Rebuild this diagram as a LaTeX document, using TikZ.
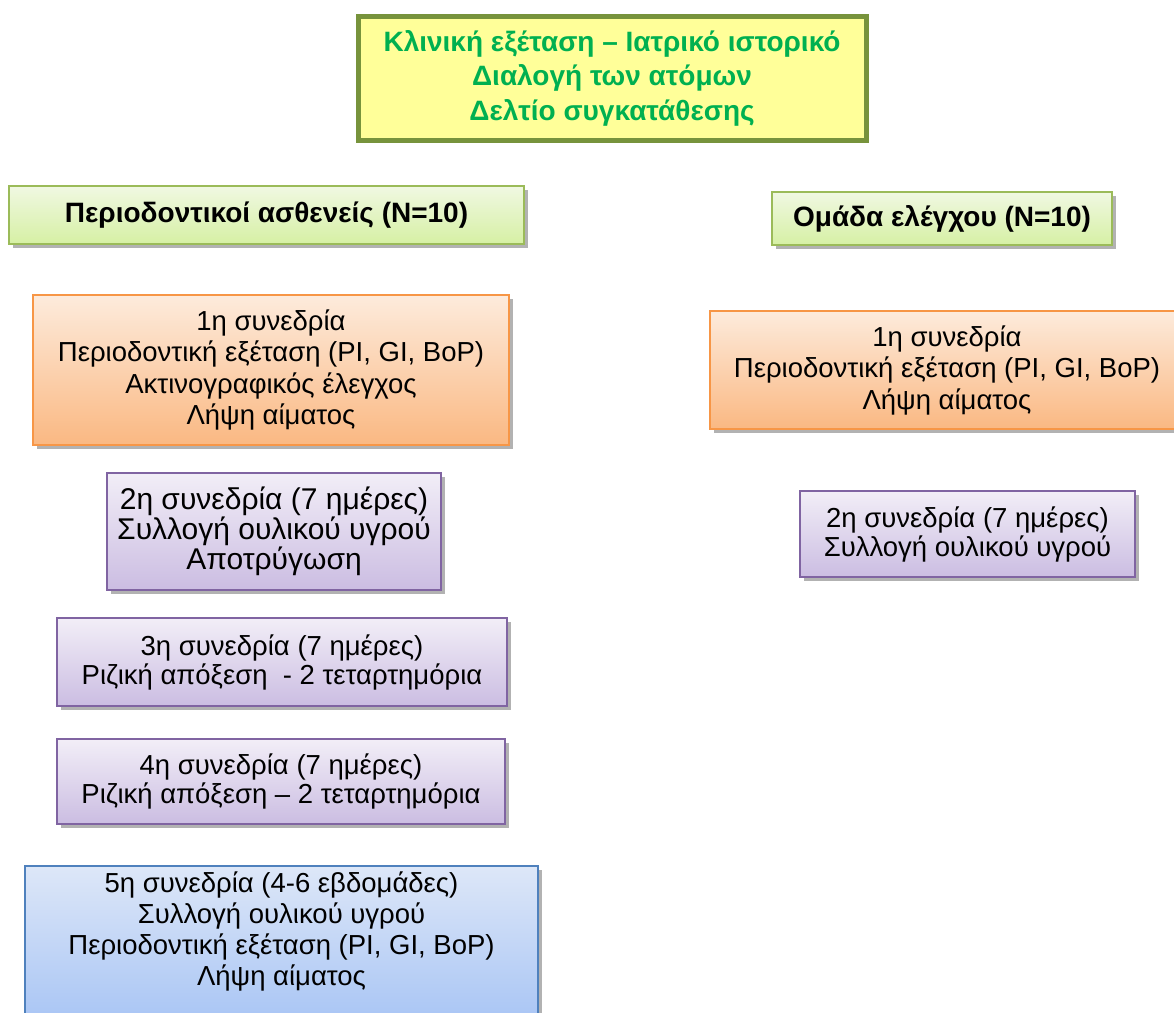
\documentclass[tikz,border=0pt]{standalone}
\usepackage{fontspec}
\setmainfont{Liberation Sans}
\usetikzlibrary{shadows}
\definecolor{olivebd}{HTML}{77933C}
\definecolor{yellowfill}{HTML}{FFFF99}
\definecolor{greentext}{HTML}{00B050}
\definecolor{greenbd}{HTML}{9BBB59}
\definecolor{greentop}{HTML}{F0F8E2}
\definecolor{greenbot}{HTML}{D6F0A4}
\definecolor{orbd}{HTML}{F79646}
\definecolor{ortop}{HTML}{FDEBDC}
\definecolor{orbot}{HTML}{FAB882}
\definecolor{pubd}{HTML}{8064A2}
\definecolor{putop}{HTML}{F2EEF7}
\definecolor{pubot}{HTML}{CBBDE2}
\definecolor{blbd}{HTML}{4F81BD}
\definecolor{bltop}{HTML}{DDE7F8}
\definecolor{blbot}{HTML}{A4C2F4}
\tikzset{
  basebox/.style={rectangle, inner sep=0pt, align=center, text=black,
    font=\fontsize{27.5}{31.5}\selectfont},
  shad/.style={drop shadow={shadow xshift=4pt, shadow yshift=-4pt, fill=black!30, opacity=1}},
  titlebox/.style={basebox, draw=olivebd, line width=5pt, fill=yellowfill, text=greentext,
    font=\bfseries\fontsize{28}{34.5}\selectfont},
  headbox/.style={basebox, shad, draw=greenbd, line width=1.5pt, top color=greentop, bottom color=greenbot,
    font=\bfseries\fontsize{28}{32}\selectfont},
  orbox/.style={basebox, shad, draw=orbd, line width=2pt, top color=ortop, bottom color=orbot},
  pubox/.style={basebox, shad, draw=pubd, line width=2pt, top color=putop, bottom color=pubot,
    font=\fontsize{27.5}{29}\selectfont},
  blbox/.style={basebox, shad, draw=blbd, line width=2pt, top color=bltop, bottom color=blbot},
  plaintext/.style={inner sep=0pt, align=center, font=\fontsize{27.5}{31}\selectfont},
}
\begin{document}
\begin{tikzpicture}[x=1pt,y=-1pt]
\useasboundingbox[fill=white] (0,0) rectangle (1174,1012);

\node[titlebox, minimum width=508pt, minimum height=124pt] (top) at (612,78)
  {Κλινική εξέταση – Ιατρικό ιστορικό\\Διαλογή των ατόμων\\Δελτίο συγκατάθεσης};

\node[headbox, minimum width=515pt, minimum height=58pt] (lh) at (266.5,215)
  {Περιοδοντικοί ασθενείς (N=10)};
\node[headbox, minimum width=340pt, minimum height=53pt] (rh) at (942,218.5)
  {Ομάδα ελέγχου (N=10)};

\node[orbox, minimum width=476pt, minimum height=150pt] (o1) at (271,370)
  {1η συνεδρία\\Περιοδοντική εξέταση (PI, GI, BoP)\\Ακτινογραφικός έλεγχος\\Λήψη αίματος};
\node[orbox, minimum width=474pt, minimum height=118pt] (o2) at (947,370)
  {1η συνεδρία\\Περιοδοντική εξέταση (PI, GI, BoP)\\Λήψη αίματος};

\node[pubox, minimum width=334pt, minimum height=117pt, font=\fontsize{30}{28}\selectfont] (p2) at (274,531)
  {2η συνεδρία (7 ημέρες)\\Συλλογή ουλικού υγρού\\Αποτρύγωση};
\node[pubox, minimum width=450pt, minimum height=88pt] (p3) at (282,662)
  {3η συνεδρία (7 ημέρες)\\Ριζική απόξεση \ - 2 τεταρτημόρια};
\node[pubox, minimum width=448pt, minimum height=85pt] (p4) at (281,781.5)
  {4η συνεδρία (7 ημέρες)\\Ριζική απόξεση – 2 τεταρτημόρια};
\node[pubox, minimum width=335pt, minimum height=86pt] (rp2) at (967.5,534)
  {2η συνεδρία (7 ημέρες)\\Συλλογή ουλικού υγρού};

\node[blbox, minimum width=513pt, minimum height=170pt] (b5) at (281.5,951) {};
\node[plaintext] (b5t) at (281.5,931.5)
  {5η συνεδρία (4-6 εβδομάδες)\\Συλλογή ουλικού υγρού\\Περιοδοντική εξέταση (PI, GI, BoP)\\Λήψη αίματος};
\end{tikzpicture}
\end{document}
